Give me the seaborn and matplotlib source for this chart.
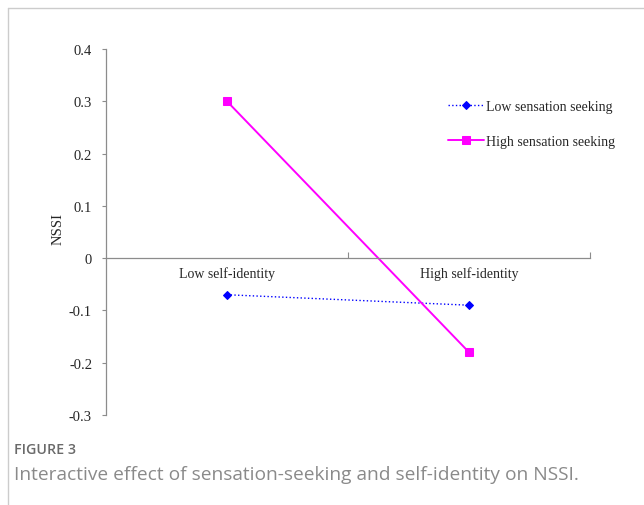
import matplotlib
matplotlib.use("Agg")
import matplotlib.pyplot as plt
import seaborn as sns
import pandas as pd

# Data
identity = ["Low self-identity", "High self-identity"]
low_seeking = [-0.07, -0.09]
high_seeking = [0.30, -0.18]
yticks = [0.4, 0.3, 0.2, 0.1, 0, -0.1, -0.2, -0.3]
ytick_labels = ["0.4", "0.3", "0.2", "0.1", "0", "-0.1", "-0.2", "-0.3"]

df = pd.DataFrame({
    "x": [0, 1, 0, 1],
    "NSSI": low_seeking + high_seeking,
    "group": ["Low sensation seeking"] * 2 + ["High sensation seeking"] * 2,
})

sns.set_style("white")
plt.rcParams["font.family"] = ["Liberation Serif", "DejaVu Serif"]

fig = plt.figure(figsize=(6.44, 5.06), dpi=100)
ax = fig.add_axes([106 / 644, 1 - 416 / 506, (590 - 106) / 644, (416 - 50) / 506])

styles = {
    "Low sensation seeking": dict(color="#0000ff", marker="D", ls=":", ms=4.5, lw=1.0),
    "High sensation seeking": dict(color="#ff00ff", marker="s", ls="-", ms=5.5, lw=1.4),
}
for name, st in styles.items():
    sub = df[df["group"] == name]
    sns.lineplot(data=sub, x="x", y="NSSI", ax=ax, color=st["color"], marker=st["marker"],
                 linestyle=st["ls"], markersize=st["ms"], linewidth=st["lw"],
                 markeredgecolor=st["color"], label=name)

ax.set_xlim(-0.5, 1.5)
ax.set_ylim(-0.3, 0.4)
ax.set_xlabel("")
ax.set_ylabel("NSSI", fontsize=10.5)
ax.yaxis.set_label_coords(-0.086, 0.51)

for s in ["top", "right"]:
    ax.spines[s].set_visible(False)
for s in ["left", "bottom"]:
    ax.spines[s].set_color("#8c8c8c")
    ax.spines[s].set_linewidth(0.9)
ax.spines["bottom"].set_position(("data", 0))

ax.set_yticks(yticks)
ax.set_yticklabels(ytick_labels, fontsize=10.5)
ax.tick_params(axis="y", direction="out", length=3, color="#8c8c8c", pad=7, left=True)

ax.set_xticks([0.5, 1.5])
ax.set_xticklabels(["", ""])
ax.tick_params(axis="x", which="major", direction="in", length=4, color="#8c8c8c", bottom=True)
ax.set_xticks([0, 1], minor=True)
ax.set_xticklabels(identity, minor=True, fontsize=10)
ax.tick_params(axis="x", which="minor", length=0, pad=6)

leg = ax.legend(loc="upper left", bbox_to_anchor=(0.68, 0.895), frameon=False, fontsize=10,
                handlelength=2.6, handletextpad=0.15, labelspacing=1.6)

# Caption and page frame
fig.text(14 / 644, 1 - 450 / 506, "FIGURE 3", fontsize=10.3, color="#6a6a6a",
         family=["Open Sans", "DejaVu Sans"], fontweight="semibold", va="center")
fig.text(14 / 644, 1 - 475 / 506, "Interactive effect of sensation-seeking and self-identity on NSSI.",
         fontsize=13.8, color="#8a8a8a", family=["Open Sans", "DejaVu Sans"], va="center")
fig.add_artist(plt.Line2D([8 / 644, 1], [1 - 9 / 506, 1 - 9 / 506], color="#cccccc", lw=1))
fig.add_artist(plt.Line2D([8 / 644, 8 / 644], [0, 1 - 9 / 506], color="#cccccc", lw=1))

fig.savefig("out.png", dpi=100)
